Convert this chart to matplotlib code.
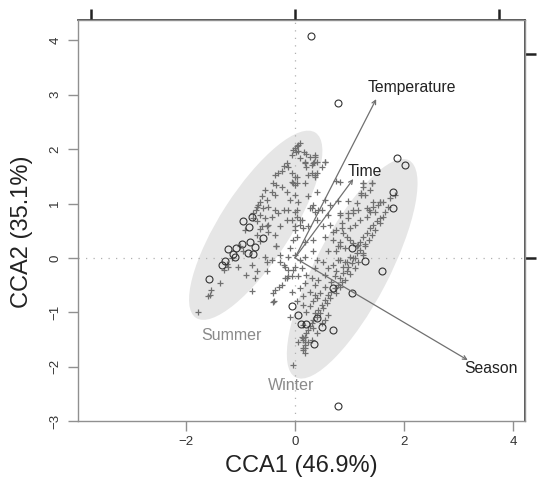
import matplotlib
matplotlib.use("Agg")
import matplotlib.pyplot as plt
from matplotlib.patches import Ellipse
import numpy as np

plt.rcParams['font.family'] = ['Liberation Sans', 'DejaVu Sans']

# ---- data (CCA scores) ----
plus_x = [
    -0.03, 0.0, 0.03, 0.06, 0.09, 0.01, -0.06, 0.05, 0.17, 0.21, 0.18, 0.09, 0.37, 0.34, -0.15, -0.2,
    -0.12, -0.24, -0.31, -0.37, -0.06, 0.0, -0.40, -0.34, -0.24, -0.06, 0.03, -0.55, -0.43, -0.37,
    -0.15, -0.09, -0.61, -0.52, -0.64, -0.67, -0.70, -0.72, -0.58, -0.49, -0.37, -0.31, -0.21, -0.43,
    -0.55, -0.64, -0.77, -0.49, -0.61,
    0.35, 0.49, 0.31, 0.37, 0.18, 0.06, 0.24, 0.40, 0.31, 0.42, 0.0, -0.06, 0.12, 0.09, 0.24,
    -0.77, -0.70, -0.92, -0.64, -0.52, -0.49, -0.70, -0.64, -1.01, -0.95, -1.16, -1.25, -1.22, -1.05,
    -1.30, -0.55, -0.43, -0.52, -0.28, -0.34, -0.12, -0.28, -0.79, -0.70, -0.52, -0.90, -0.73, -0.18,
    -0.12, -0.18, -0.24, -0.30, -0.37, -0.40, -0.40, -0.79, -1.38, -1.54, -1.56, -1.59, -1.77, -0.06,
    -0.03, -0.38,
    0.28, 0.37, 0.55, 0.18, 0.40, 0.03, -0.03, 0.76, 0.83, 1.25, 1.41, 1.22, 1.38, 0.98, 0.79, 0.64,
    0.55, 0.34, 0.28, 0.37, 0.49, 0.61, 0.83, 0.98, 1.07, 0.03, 0.09, 0.15, 0.0, 0.40, 0.52, 0.64,
    0.70, 0.86, 0.55, 0.34, 0.18, 0.03, 0.83, 1.13, 1.32, 1.44, 1.56, 1.47,
    1.28, 1.19, 1.13, 1.25, 1.07, 1.04, 0.98, 1.10, 0.95, 0.89, 1.01, 0.83, 0.92, 0.86, 0.79, 0.73,
    0.83, 0.67, 0.76, 0.61, 0.64, 0.55, 0.58, 0.49, 0.52, 0.43, 0.46, 0.37, 0.40, 0.34, 0.31, 0.28,
    0.24, 0.21, 0.18, 0.15, 0.18, 0.15,
    1.16, 0.95, 0.89, 0.76, 0.73, 0.67, 0.55, 0.46, 0.40, 0.34, 0.28, 0.21, 0.61, 0.55, 0.49, 0.34,
    0.40, 0.31, 0.18,
    -0.12, 0.0, 0.12, 0.06, -0.15, 0.21, 0.31, 0.43, 0.18, 0.37, 0.09, 0.28, -0.06, 0.15, 0.37, 0.03,
    0.15, -0.09, 0.55, 0.61, 0.70, 0.52, 0.40, 0.37, 0.61, 0.76, 0.79, 0.83, 0.34, 0.18, 0.15, 0.12,
    0.06, 0.24, 0.18, 0.15, 0.18, 0.15, -0.03,
    1.25, 1.41, 1.25, 1.22, 1.28, 1.74, 1.56, 1.62, 1.53, 1.71, 1.65, 1.62, 1.56, 1.50, 1.56, 1.44,
    1.38, 1.47, 1.32, 1.41, 1.25, 1.35, 1.19, 1.28, 1.13, 1.07, 1.01, 0.95, 0.89, 1.01, 1.10, 1.19,
    1.32, 1.38, 1.44, 1.35, 1.16, 1.07, 0.98, 0.86, 0.76, 0.70, 0.79, 0.92, 1.01, 1.10, 1.16, 1.25,
    0.92, 0.83, 1.83, 0.83,
    -0.09, 0.0, 0.09, -0.21, -0.34, -0.37, -0.28, -0.15, 0.0, -0.03, -0.12, 0.03, 0.0, 0.0, 0.24,
    0.31, 0.40, 0.55, 0.37, 0.21,
]
plus_y = [
    1.99, 2.02, 2.05, 2.08, 2.12, 1.94, 1.89, 1.97, 1.95, 1.91, 1.77, 1.83, 1.86, 1.74, 1.74, 1.69,
    1.67, 1.59, 1.57, 1.53, 1.57, 1.49, 1.37, 1.34, 1.31, 1.40, 1.37, 1.25, 1.22, 1.16,
    1.22, 1.07, 1.13, 1.07, 1.03, 0.97, 0.93, 0.88, 0.91, 0.94, 0.88, 0.82, 0.88, 0.76,
    0.73, 0.79, 0.82, 0.61, 0.58,
    1.77, 1.68, 1.56, 1.49, 1.37, 1.03, 1.13, 1.22, 0.91, 0.88, 0.85, 0.70, 0.70, 0.61, 0.58,
    0.73, 0.67, 0.51, 0.53, 0.58, 0.48, 0.42, 0.31, 0.21, 0.13, -0.01, -0.12, -0.16, -0.16,
    -0.22, 0.01, -0.04, -0.07, 0.06, 0.21, 0.02, -0.07, -0.13, -0.25, -0.25, -0.32, -0.37, -0.16,
    -0.34, -0.37, -0.50, -0.53, -0.59, -0.65, -0.81, -0.61, -0.47, -0.59, -0.68, -0.71, -0.99, -0.34,
    -0.22, -0.80,
    1.86, 1.89, 1.77, 1.75, 1.56, 1.49, 1.37, 1.42, 1.40, 1.37, 1.37, 1.20, 1.25, 1.05, 1.05, 0.97,
    1.07, 0.97, 0.91, 0.85, 0.88, 0.79, 0.79, 0.82, 0.88, 0.88, 0.70, 0.55, 0.58, 0.70, 0.58, 0.61,
    0.48, 0.55, 0.39, 0.33, 0.30, 0.39, 0.30, 1.01, 0.91, 1.03, 1.03, 0.85,
    0.21, 0.15, 0.09, 0.06, -0.01, -0.10, -0.16, -0.19, -0.25, -0.28, -0.30, -0.37, -0.40, -0.45,
    -0.50, -0.55, -0.53, -0.62, -0.65, -0.68, -0.74, -0.77, -0.83, -0.86, -0.92, -0.96, -1.02, -1.02,
    -1.08, -1.14, -1.20, -1.26, -1.32, -1.38, -1.45, -1.51, -1.60, -1.69,
    0.24, -0.07, -0.16, -0.25, -0.34, -0.44, -0.53, -0.65, -0.74, -0.80, -0.89, -0.99, -1.05, -1.14,
    -1.20, -1.29, -1.38, -1.51, -1.66,
    -0.22, -0.16, -0.19, -0.34, -0.37, -0.31, -0.37, -0.40, -0.47, -0.50, -0.56, -0.62, -0.62, -0.71,
    -0.68, -0.80, -0.86, -1.08, -0.31, -0.19, -0.13, -0.07, -0.04, -0.19, 0.12, 0.12, -0.04, 0.21,
    0.12, 0.02, -1.23, -1.45, -1.54, -1.54, -1.75, -1.48, -1.54, -1.66, -1.97,
    1.37, 1.37, 1.31, 1.16, 1.16, 1.10, 1.03, 1.03, 0.97, 0.94, 0.85, 0.76, 0.73, 0.67, 0.64, 0.61,
    0.55, 0.51, 0.45, 0.42, 0.39, 0.33, 0.30, 0.26, 0.21, 0.27, 0.33, 0.39, 0.45, 0.55, 0.61, 0.70,
    0.76, 0.85, 0.94, 0.88, 0.88, 0.82, 0.73, 0.64, 0.51, 0.33, 0.21, 0.18, 0.02, -0.01, -0.07, 0.09,
    -0.07, -0.04, 1.16, 0.82,
    0.18, 0.06, -0.04, -0.13, 0.21, 0.42, 0.58, 0.70, 0.51, 0.33, 0.88, 0.76, 1.16, 1.34, 1.52,
    1.70, 1.77, 1.77, 1.52, 1.68,
]

circ_x = [0.30, 0.79, 1.87, 2.02, 1.80, 1.80, 1.05, 1.28, 1.60, 0.70, 1.05, -0.06, 0.06, 0.11, 0.20,
          0.40, 0.50, 0.70, 0.35, 0.79,
          -0.95, -0.84, -0.59, -1.23, -1.08, -0.97, -0.83, -0.73, -0.86, -0.77, -1.14, -1.10, -1.28,
          -1.34, -1.58, -0.79]
circ_y = [4.08, 2.85, 1.84, 1.70, 1.21, 0.92, 0.18, -0.06, -0.24, -0.55, -0.64, -0.88, -1.05, -1.21,
          -1.21, -1.10, -1.27, -1.32, -1.58, -2.72,
          0.68, 0.57, 0.37, 0.17, 0.18, 0.26, 0.29, 0.20, 0.09, 0.07, 0.07, 0.02, -0.06,
          -0.13, -0.38, 0.75]

# environmental arrows (plotted in site units)
env_names = ["Temperature", "Time", "Season"]
env_x = [1.49, 1.07, 3.17]
env_y = [2.92, 1.45, -1.88]
env_lab_x = [2.15, 1.28, 3.60]
env_lab_y = [3.13, 1.58, -2.04]

groups = ["Summer", "Winter"]
grp_cx = [-0.72, 1.05]
grp_cy = [0.60, -0.20]
grp_w = [4.05, 4.5]
grp_h = [1.3, 1.35]
grp_ang = [57.3, 62.5]
grp_lab_x = [-1.16, -0.07]
grp_lab_y = [-1.42, -2.35]

arrow_scale = 3.75  # biplot secondary axis scale

# ---- figure ----
W, H = 550, 483
fig = plt.figure(figsize=(W / 100, H / 100), dpi=100)
ax = fig.add_axes([78 / W, 1 - 421 / H, (525 - 78) / W, (421 - 20) / H])
ax.set_xlim(-3.98, 4.22)
ax.set_ylim(-3.0, 4.375)

for cx, cy, w, h, a in zip(grp_cx, grp_cy, grp_w, grp_h, grp_ang):
    ax.add_patch(Ellipse((cx, cy), w, h, angle=a, facecolor='#e6e6e6', edgecolor='none', zorder=1))

ax.axhline(0, color='#b0b0b0', lw=0.9, ls=(0, (1, 5)), zorder=2)
ax.axvline(0, color='#b0b0b0', lw=0.9, ls=(0, (1, 5)), zorder=2)

ax.plot(plus_x, plus_y, ls='none', marker='+', ms=5, mew=0.9, color='#707070', zorder=3)
ax.plot(circ_x, circ_y, ls='none', marker='o', ms=5, mew=0.8, mfc='none', mec='#333333', zorder=4)

for name, ex, ey, lx, ly in zip(env_names, env_x, env_y, env_lab_x, env_lab_y):
    ax.annotate('', xy=(ex, ey), xytext=(0, 0),
                arrowprops=dict(arrowstyle='->', color='#707070', lw=0.9, shrinkA=0, shrinkB=0,
                                mutation_scale=7), zorder=5)
    ax.text(lx, ly, name, ha='center', va='center', fontsize=11.3, color='#222222', zorder=6)

for g, lx, ly in zip(groups, grp_lab_x, grp_lab_y):
    ax.text(lx, ly, g, ha='center', va='center', fontsize=11.5, color='#8a8a8a', zorder=6)

# main axes styling
for s in ['left', 'bottom', 'top', 'right']:
    ax.spines[s].set_color('#909090')
    ax.spines[s].set_linewidth(1.0)
ax.set_xticks([-2, 0, 2, 4])
ax.set_yticks([-3, -2, -1, 0, 1, 2, 3, 4])
ax.tick_params(axis='both', colors='#909090', length=7, width=1.0, labelcolor='#333333',
               labelsize=9.5)
ax.tick_params(axis='x', pad=3.5)
ax.tick_params(axis='y', pad=5)
for lab in ax.get_yticklabels():
    lab.set_rotation(90)
    lab.set_va('center')

# secondary (biplot) axes
sec_x = ax.secondary_xaxis('top', functions=(lambda v: v / arrow_scale, lambda v: v * arrow_scale))
sec_x.set_xticks([-1, 0, 1])
sec_x.set_xticklabels(['', '', ''])
sec_x.tick_params(length=8, width=1.8, colors='#222222')
sec_x.spines['top'].set_color('#333333')
sec_x.spines['top'].set_linewidth(1.2)

sec_y = ax.secondary_yaxis('right', functions=(lambda v: v / arrow_scale, lambda v: v * arrow_scale))
sec_y.set_yticks([0, 1])
sec_y.tick_params(length=8, width=1.8, colors='#222222', labelcolor='#333333', labelsize=9.5, pad=9)
sec_y.spines['right'].set_color('#333333')
sec_y.spines['right'].set_linewidth(1.2)
for lab in sec_y.get_yticklabels():
    lab.set_rotation(-90)
    lab.set_va('center')

fig.text(301 / W, 1 - 466 / H, 'CCA1 (46.9%)', ha='center', va='center', fontsize=17, color='#222222')
fig.text(22 / W, 1 - 232 / H, 'CCA2 (35.1%)', ha='center', va='center', fontsize=17,
         color='#222222', rotation=90)

fig.savefig('out.png', dpi=100)
